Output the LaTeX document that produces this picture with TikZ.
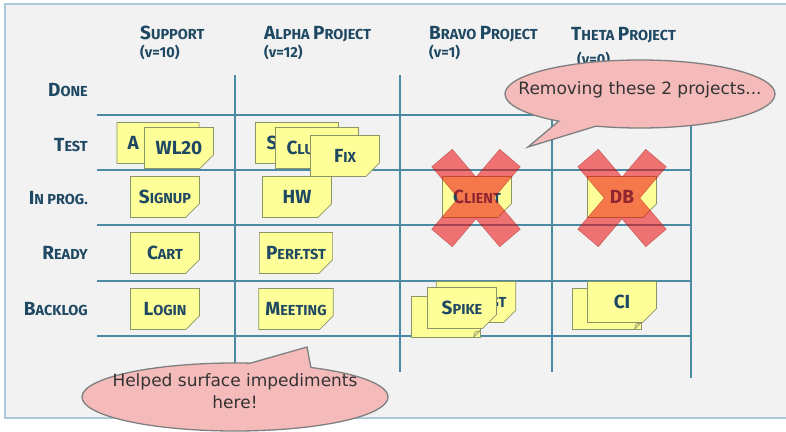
\documentclass[tikz,border=0pt]{standalone}
\usepackage{fontspec}
\setmainfont{DejaVu Sans}
\newfontfamily\handfont{Fira Sans}
\usepackage{xcolor}
\usepackage{tikz}
\usetikzlibrary{shapes,shapes.callouts,calc}

\definecolor{boardbg}{HTML}{F2F2F2}
\definecolor{framecol}{HTML}{A9CAD8}
\definecolor{gridcol}{HTML}{4A8BA3}
\definecolor{ink}{HTML}{1F4863}
\definecolor{notefill}{HTML}{FFFF99}
\definecolor{noteedge}{HTML}{8A9466}
\definecolor{notefold}{HTML}{E6E68A}
\definecolor{xred}{HTML}{EE0A0A}
\definecolor{bubblefill}{HTML}{F5BBBB}
\definecolor{bubbleedge}{HTML}{7F7F7F}

\newcommand{\bigsc}[2]{{\fontsize{19}{19}\selectfont #1}#2}
\newcommand{\bubtext}[1]{\smash{\makebox[0pt]{\begin{tabular}[c]{@{}c@{}}#1\end{tabular}}}}

\begin{document}
\begin{tikzpicture}[x=1pt, y=-1pt,
    hand/.style={font={\handfont\bfseries\fontsize{14.5}{18}\selectfont}, text=ink},
    rowlbl/.style={hand, anchor=east, inner sep=0pt},
    colhead/.style={hand, anchor=west, align=left, inner sep=0pt},
    note/.style={hand, chamfered rectangle, chamfered rectangle corners=south east,
        chamfered rectangle xsep=7pt, chamfered rectangle ysep=7pt,
        draw=noteedge, fill=notefill, line width=0.7pt,
        minimum width=69pt, minimum height=41pt, inner sep=0pt,
        path picture={\filldraw[draw=noteedge, fill=notefold, line width=0.6pt, line join=round]
            ($(path picture bounding box.south east)+(-7pt,0pt)$) --
            ($(path picture bounding box.south east)+(0pt,7pt)$) --
            ($(path picture bounding box.south east)+(-5.5pt,5.5pt)$) -- cycle;}},
    notel/.style={note, text width=61pt, inner xsep=4pt, align=left},
    noter/.style={note, text width=61pt, inner xsep=4pt, align=right},
    gridline/.style={draw=gridcol, line width=1.2pt},
    cross/.style={fill=xred, fill opacity=0.55, draw=xred!60!black, draw opacity=0.4, line width=0.5pt},
    bubble/.style={ellipse callout, draw=bubbleedge, fill=bubblefill, line width=1.3pt,
        text=black!80, font={\fontsize{17}{22}\selectfont}, inner sep=0pt}
]
    \useasboundingbox (0,0) rectangle (786,431);

    % board
    \fill[boardbg] (5,4) rectangle (786,418);
    \draw[framecol, line width=1.5pt] (786,4) -- (5,4) -- (5,418) -- (786,418);

    \foreach \y in {115,170,225,281,336}
        \draw[gridline] (97,\y) -- (691,\y);
    \foreach \x/\yb in {235/366, 400/372, 552/372, 691/378}
        \draw[gridline] (\x,75) -- (\x,\yb);

    % column heads
    \node[colhead] (support) at (140,43) {\bigsc{S}{UPPORT}\\(v=10)};
    \node[colhead] (alpha) at (264,43) {\bigsc{A}{LPHA} \bigsc{P}{ROJECT}\\(v=12)};
    \node[colhead] (bravo) at (429,43) {\bigsc{B}{RAVO} \bigsc{P}{ROJECT}\\(v=1)};
    \node[colhead] (theta) at (571,47) {\bigsc{T}{HETA} \bigsc{P}{ROJECT}\\[6pt]\hspace*{6pt}(v=0)};

    % rows
    \node[rowlbl] (done) at (88,90) {\bigsc{D}{ONE}};
    \node[rowlbl] (test) at (88,145) {\bigsc{T}{EST}};
    \node[rowlbl] (inprog) at (88,198) {\bigsc{I}{N PROG.}};
    \node[rowlbl] (ready) at (88,253) {\bigsc{R}{EADY}};
    \node[rowlbl] (backlog) at (88,309) {\bigsc{B}{ACKLOG}};

    % support
    \node[notel] (supA) at (158,143) {\bigsc{A}{}};
    \node[note] (wl20) at (179,148) {\bigsc{WL20}{}};
    \node[note] (signup) at (165,197) {\bigsc{S}{IGNUP}};
    \node[note] (cart) at (165,253) {\bigsc{C}{ART}};
    \node[note] (login) at (165,309) {\bigsc{L}{OGIN}};

    % alpha
    \node[notel] (alpS) at (297,143) {\bigsc{S}{}};
    \node[notel] (clu) at (317,148) {\bigsc{C}{LU}};
    \node[note] (fix) at (345,156) {\bigsc{F}{IX}};
    \node[note] (hw) at (297,197) {\bigsc{HW}{}};
    \node[note] (perf) at (296,253) {\bigsc{P}{ERF.TST}};
    \node[note] (meeting) at (296,309) {\bigsc{M}{EETING}};

    % bravo
    \node[note] (client) at (477,197) {\bigsc{C}{LIENT}};
    \node[note] (bravoback) at (446,317) {};
    \node[noter] (bravost) at (476,302) {ST};
    \node[note] (spike) at (462,308) {\bigsc{S}{PIKE}};

    % theta
    \node[note] (db) at (622,197) {\bigsc{DB}{}};
    \node[note] (thetaback) at (607,309) {};
    \node[note] (ci) at (622,302) {\bigsc{CI}{}};

    % crosses
    \foreach \cx in {476,622}
        \filldraw[cross, shift={(\cx,198)}] (-44.3,-31.25) -- (-23.7,-48.75) -- (0,-20.9)
            -- (23.7,-48.75) -- (44.3,-31.25) -- (17.8,0) -- (44.3,31.25) -- (23.7,48.75)
            -- (0,20.9) -- (-23.7,48.75) -- (-44.3,31.25) -- (-17.8,0) -- cycle;

    % callouts
    \coordinate (removetip) at (528,147);
    \coordinate (helpedtip) at (307,347);
    \node[bubble, minimum width=270pt, minimum height=68pt, callout pointer arc=18,
        callout absolute pointer={(removetip)}] (removing) at (640,94)
        {\bubtext{Removing these 2 projects...}};
    \node[bubble, minimum width=306pt, minimum height=68pt, callout pointer arc=24,
        callout absolute pointer={(helpedtip)}] (helped) at (235,397)
        {\bubtext{Helped surface impediments\\here!}};
\end{tikzpicture}
\end{document}
